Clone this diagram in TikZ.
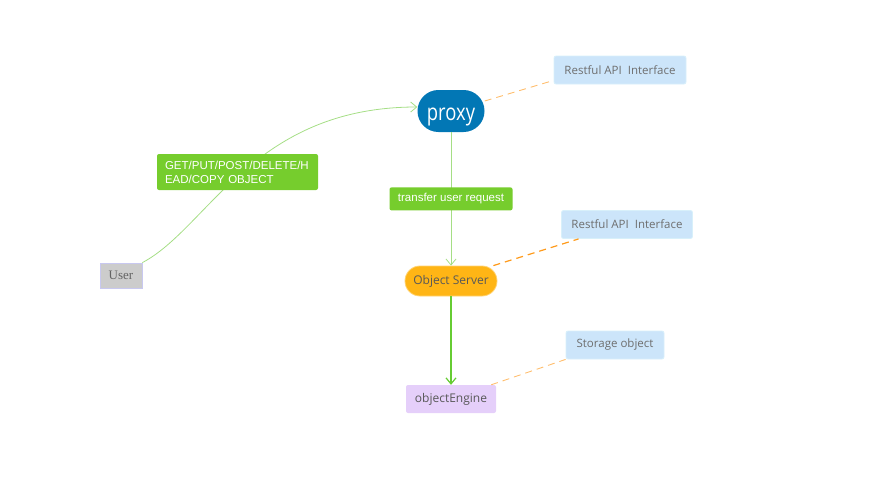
\documentclass[tikz,border=0pt]{standalone}
\usepackage{fontspec}
\setmainfont{Open Sans}
\newfontfamily\arialf{Liberation Sans}
\newfontfamily\timesf{Liberation Serif}
\newfontfamily\proxyf[FakeStretch=0.8]{Open Sans}
\usetikzlibrary{arrows.meta}
\definecolor{proxyblue}{HTML}{0277B5}
\definecolor{lblgreen}{HTML}{76CD2D}
\definecolor{linegreen}{HTML}{A5DE85}
\definecolor{darkgreen}{HTML}{66CC33}
\definecolor{notebl}{HTML}{CCE5FA}
\definecolor{notebd}{HTML}{D8F0FA}
\definecolor{txtgray}{HTML}{6E6E6E}
\definecolor{orangefill}{HTML}{FFB515}
\definecolor{lav}{HTML}{E5CFFA}
\definecolor{dashor}{HTML}{FFBE6E}
\definecolor{dashdark}{HTML}{FF9A1A}
\definecolor{usergray}{HTML}{CCCCCC}
\definecolor{userbd}{HTML}{C8C8F0}
\tikzset{
  note/.style={draw=notebd, line width=0.8pt, fill=notebl, rounded corners=2pt, text=txtgray, font=\fontsize{11.5}{13}\selectfont, minimum height=28pt, inner xsep=8pt},
  greenlbl/.style={fill=lblgreen, rounded corners=2pt, text=white, font=\arialf\fontsize{11.5}{14}\selectfont},
  conn/.style={draw=linegreen, line width=0.8pt, -{Straight Barb[length=6pt,width=10pt,line width=0.8pt]}},
  dashline/.style={draw=dashor, line width=0.9pt, dash pattern=on 7pt off 5pt},
}
\begin{document}
\begin{tikzpicture}[x=1pt,y=-1pt]
\useasboundingbox (0,0) rectangle (873,480);
\node[rectangle, rounded corners=20.9pt, fill=proxyblue, text=white, minimum width=67pt, minimum height=42pt, font=\proxyf\fontsize{23}{26}\selectfont, inner sep=0pt, text height=20pt, text depth=2pt] (proxy) at (451,111) {proxy};
\node[note, minimum width=132pt] (rest1) at (620,70) {Restful API\ \ Interface};
\node[note, minimum width=131pt] (rest2) at (627,224.5) {Restful API\ \ Interface};
\node[note, minimum width=98pt] (stor) at (615,345) {Storage object};
\node[rectangle, rounded corners=14.9pt, draw=orangefill!60!white, line width=0.8pt, fill=orangefill, text=txtgray!80!black, minimum width=92pt, minimum height=30pt, inner sep=0pt, font=\fontsize{12}{14}\selectfont] (os) at (451,281) {Object Server};
\node[fill=lav, rounded corners=2pt, text=txtgray!80!black, minimum width=90pt, minimum height=28pt, inner sep=0pt, font=\fontsize{12}{14}\selectfont] (oe) at (451,399) {objectEngine};
\node[draw=userbd, line width=0.8pt, fill=usergray, text=txtgray!90!black, minimum width=42pt, minimum height=25pt, inner sep=0pt, font=\timesf\fontsize{13}{15}\selectfont] (user) at (121,275.5) {User};
% connectors
\draw[conn] (user.north east) .. controls (208,228) and (253,107) .. ([yshift=4pt]proxy.west);
\node[greenlbl, minimum width=161pt, minimum height=36pt, align=left, text width=145pt] (getlbl) at (237.5,172) {GET/PUT/POST/DELETE/H\\EAD/COPY OBJECT};
\draw[conn] (proxy) -- (os) node[midway, greenlbl, minimum width=123pt, minimum height=23pt, inner sep=0pt] (trlbl) {transfer user request};
\draw[draw=darkgreen, line width=1.2pt, -{Straight Barb[length=6pt,width=10pt,line width=1.2pt]}] (os) -- (oe);
\draw[dashline] ([yshift=10pt]proxy.east) -- ([yshift=4pt]rest1.south west);
\draw[dashline, draw=dashdark, line width=1.2pt] ([xshift=-4pt]os.north east) -- ([xshift=17.5pt]rest2.south west);
\draw[dashline] ([xshift=-5pt]oe.north east) -- (stor.south west);
\end{tikzpicture}
\end{document}
